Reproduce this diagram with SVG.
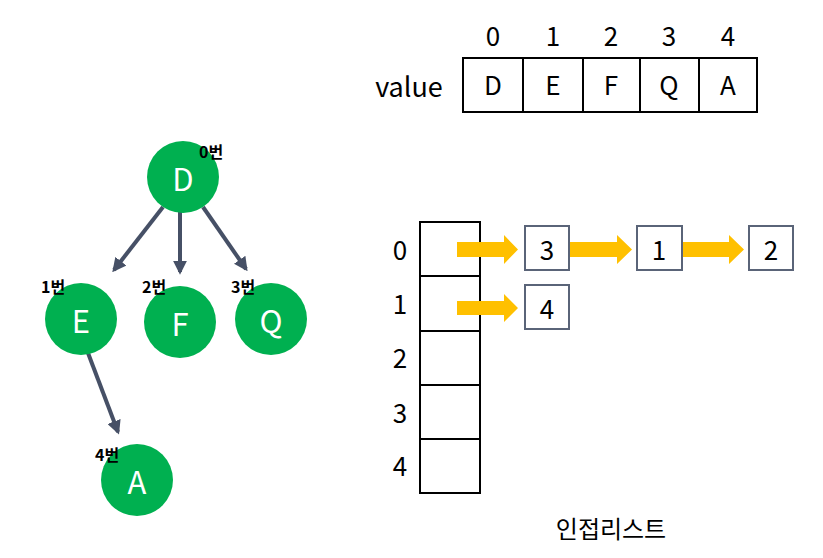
<svg xmlns="http://www.w3.org/2000/svg" width="823" height="558" viewBox="0 0 823 558">
<style>
text{font-family:"Noto Sans CJK KR","Open Sans",sans-serif;}
.node{fill:#00B050;}
.nl{fill:#fff;font-size:31px;text-anchor:middle;dominant-baseline:central;}
.tag{fill:#000;font-size:16px;font-weight:bold;}
.edge{stroke:#465066;stroke-width:4;fill:none;}
.cell{fill:#fff;stroke:#000;stroke-width:2;}
.t{fill:#000;font-size:26px;text-anchor:middle;dominant-baseline:central;}
.lbox{fill:#fff;stroke:#5a6478;stroke-width:2;}
.ya{fill:#FFC000;}
</style>
<defs>
<marker id="ah" viewBox="0 0 10 10" refX="8" refY="5" markerWidth="3.5" markerHeight="3.5" orient="auto" markerUnits="strokeWidth">
<path d="M0,0 L10,5 L0,10 z" fill="#465066"/>
</marker>
</defs>
<g id="connectors">
<line class="edge" x1="163" y1="207" x2="114" y2="270" marker-end="url(#ah)"/>
<line class="edge" x1="180" y1="212" x2="180" y2="272" marker-end="url(#ah)"/>
<line class="edge" x1="203" y1="207" x2="246" y2="269" marker-end="url(#ah)"/>
<line class="edge" x1="88" y1="353" x2="118" y2="432" marker-end="url(#ah)"/>
</g>
<g id="node-D"><circle class="node" cx="183" cy="177" r="36"/><text class="nl" x="183" y="177">D</text><text class="tag" x="199" y="158">0번</text></g>
<g id="node-E"><circle class="node" cx="81" cy="319" r="36"/><text class="nl" x="81" y="319">E</text><text class="tag" x="41" y="293">1번</text></g>
<g id="node-F"><circle class="node" cx="180" cy="322" r="36"/><text class="nl" x="180" y="322">F</text><text class="tag" x="142" y="293">2번</text></g>
<g id="node-Q"><circle class="node" cx="271" cy="319" r="36"/><text class="nl" x="271" y="319">Q</text><text class="tag" x="231" y="293">3번</text></g>
<g id="node-A"><circle class="node" cx="137" cy="480" r="36"/><text class="nl" x="137" y="480">A</text><text class="tag" x="95" y="461">4번</text></g>
<g id="value-array">
<text x="409" y="85" class="t" style="font-size:27px">value</text>
<rect class="cell" x="463" y="58" width="60" height="54"/>
<rect class="cell" x="523" y="58" width="60" height="54"/>
<rect class="cell" x="583" y="58" width="57" height="54"/>
<rect class="cell" x="640" y="58" width="59" height="54"/>
<rect class="cell" x="699" y="58" width="58" height="54"/>
<text class="t" x="493" y="34">0</text><text class="t" x="553" y="34">1</text><text class="t" x="611" y="34">2</text><text class="t" x="669" y="34">3</text><text class="t" x="728" y="34">4</text>
<text class="t" x="493" y="83">D</text><text class="t" x="553" y="83">E</text><text class="t" x="611" y="83">F</text><text class="t" x="669" y="83">Q</text><text class="t" x="728" y="83">A</text>
</g>
<g id="adj-list">
<rect class="cell" x="420" y="222" width="60" height="54"/>
<rect class="cell" x="420" y="276" width="60" height="55"/>
<rect class="cell" x="420" y="331" width="60" height="54"/>
<rect class="cell" x="420" y="385" width="60" height="54"/>
<rect class="cell" x="420" y="439" width="60" height="54"/>
<text class="t" x="400" y="248">0</text><text class="t" x="400" y="302">1</text><text class="t" x="400" y="356">2</text><text class="t" x="400" y="411">3</text><text class="t" x="400" y="464">4</text>
<path class="ya" d="M457,242 H504 V235 L518,249.5 L504,264 V257 H457 z"/>
<path class="ya" d="M570,242 H617 V235 L632,249.5 L617,264 V257 H570 z"/>
<path class="ya" d="M682,242 H729 V235 L744,249.5 L729,264 V257 H682 z"/>
<path class="ya" d="M457,301 H504 V294 L518,308 L504,322 V315 H457 z"/>
<rect class="lbox" x="525" y="226" width="44" height="44"/><text class="t" x="547" y="248">3</text>
<rect class="lbox" x="637" y="226" width="45" height="44"/><text class="t" x="659" y="248">1</text>
<rect class="lbox" x="749" y="226" width="44" height="44"/><text class="t" x="771" y="248">2</text>
<rect class="lbox" x="525" y="285" width="44" height="44"/><text class="t" x="547" y="307">4</text>
<text class="t" x="611" y="527" style="font-size:24px">인접리스트</text>
</g>
</svg>
